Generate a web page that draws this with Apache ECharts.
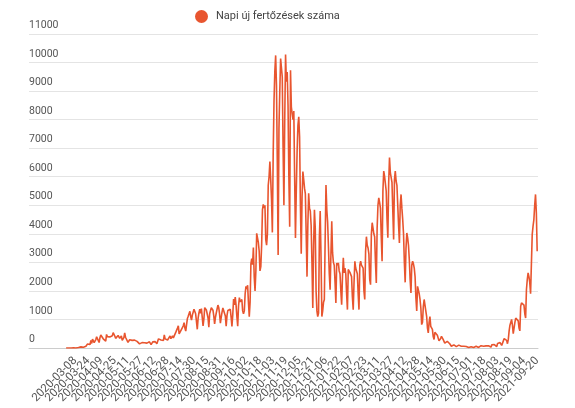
<!DOCTYPE html>
<html>
<head>
<meta charset="utf-8">
<script src="https://cdn.jsdelivr.net/npm/echarts@6/dist/echarts.min.js"></script>
<style>
html,body{margin:0;padding:0;background:#fff;}
#chart{width:575px;height:408px;}
</style>
</head>
<body>
<div id="chart"></div>
<script>
// ---- data ----
const seriesName = 'Napi új fertőzések száma';
const startDate = '2020-02-26';
const endDate = '2021-09-20';
const missingDates = ['2021-07-10'];

const tickLabels = [
 '2020-03-08','2020-03-24','2020-04-09','2020-04-25','2020-05-11','2020-05-27','2020-06-12','2020-06-28',
 '2020-07-14','2020-07-30','2020-08-15','2020-08-31','2020-09-16','2020-10-02','2020-10-18','2020-11-03',
 '2020-11-19','2020-12-05','2020-12-21','2021-01-06','2021-01-22','2021-02-07','2021-02-23','2021-03-11',
 '2021-03-27','2021-04-12','2021-04-28','2021-05-14','2021-05-30','2021-06-15','2021-07-01','2021-07-18',
 '2021-08-03','2021-08-19','2021-09-04','2021-09-20'
];

const cases2020 = [
 1,0,2,0,0,
 0,0,1,2,3,2,6,
 2,10,4,19,30,7,39,
 29,45,29,31,31,59,66,
 143,186,144,123,263,160,308,
 263,192,250,295,391,448,332,
 193,361,456,441,433,322,389,
 320,240,475,399,459,355,389,
 327,351,426,540,523,421,338,
 307,361,437,442,339,397,420,
 267,333,364,530,376,340,349,
 195,238,290,291,259,267,238,
 213,276,218,251,233,225,188,
 145,179,208,188,233,199,186,
 119,137,172,196,174,216,182,
 120,173,215,195,190,224,193,
 147,197,320,270,266,283,331,
 215,264,460,320,321,325,280,
 262,292,422,327,357,427,356,
 314,406,555,614,698,777,492,
 432,477,665,688,777,889,698,
 591,818,1030,1112,1119,1284,1104,
 980,1151,1182,1356,1295,1201,1150,
 655,1046,1232,1357,1215,1378,1345,
 771,1015,1415,1454,1331,1378,1060,
 733,1201,1252,1409,1346,1324,1128,
 842,1072,1226,1365,1504,1415,1197,
 868,1070,1254,1403,1380,1421,1121,
 766,1136,1311,1332,1300,1356,1082,
 752,1171,1713,1511,1788,1500,1100,
 763,1470,1767,1617,1600,1700,1300,
 1200,1300,1900,2158,2070,2200,1600,
 1100,1600,2958,3130,2919,3517,2500,
 2000,2700,4016,4026,3697,3400,2700,
 2850,3600,4848,5028,4900,5000,3800,
 3600,4000,5700,6000,6530,5900,5200,
 4050,6800,8650,9700,10250,9200,6500,
 3260,7700,9000,10140,10200,9500,7000,
 5000,8000,10280,9330,9670,8500,6000,
 4250,9730,8450,8200,8000,8300,6000,
 3850,5500,6900,7800,8100,7400,5000,
 3300,5300,6180,5900,5600,5400,4000,
 2500,4300,5420,4900,4800,4300,3000,
 1400,3600,4840,4200,2000,1300,1100,
 1220,3900,4800,3200
];

const cases2021 = [
 1100,1300,1600,
 1700,3800,5710,4840,4400,3550,2600,
 2040,3300,4440,3330,3000,2900,2300,
 1580,2980,2900,2980,2700,2600,2000,
 1520,2500,3160,2630,2800,2600,1900,
 1345,2750,2700,2650,2600,2500,1800,
 1345,2300,3040,2800,2700,2600,1900,
 1345,2900,3040,2900,2950,2800,2000,
 1700,3390,3900,3600,3500,3300,2400,
 2220,3980,4390,4200,4000,3900,3000,
 2280,4200,5000,5260,5100,4900,3900,
 3040,5500,6200,6020,6000,5500,4500,
 3860,5800,6670,6140,6100,5800,4800,
 3800,5900,6200,5850,5700,5000,4300,
 3680,5000,5380,4900,4500,4000,3000,
 2300,3500,4030,3860,3600,3100,2400,
 1930,2900,3040,2950,2800,2500,1750,
 1300,2160,2100,1900,1700,1400,820,
 900,1460,1700,1500,1300,1110,700,
 530,900,1100,760,700,650,400,
 300,550,620,500,450,400,250,
 200,330,410,350,300,260,170,
 110,200,230,180,170,150,90,
 60,120,130,110,100,90,50,
 40,90,100,80,70,60,30,
 25,60,70,55,50,45,20,
 15,50,60,45,40,35,20,
 15,55,60,50,45,20,
 20,60,80,70,65,60,30,
 25,75,95,90,80,70,40,
 30,110,140,130,120,110,60,
 50,160,230,200,190,170,90,
 90,250,330,310,300,270,150,
 300,600,800,750,1000,800,500,
 450,900,1050,1000,1100,950,700,
 600,1460,1580,1640,1600,1500,1200,
 1050,2050,2400,2630,2500,2300,1900,
 1870,3980,4270,4500,5000,5380,4740,
 3390
];

// ---- build ----
function buildDates(start, end, skip) {
  const out = [];
  const d = new Date(start + 'T00:00:00Z');
  const e = new Date(end + 'T00:00:00Z');
  while (d <= e) {
    const s = d.toISOString().slice(0, 10);
    if (skip.indexOf(s) < 0) out.push(s);
    d.setUTCDate(d.getUTCDate() + 1);
  }
  return out;
}
const categories = buildDates(startDate, endDate, missingDates);
const values = cases2020.concat(cases2021);

// empty slots on the axis before the first reported day (and one after the last)
const leadSlots = 45;
const axisCats = new Array(leadSlots).fill('').concat(categories, ['']);
const seriesData = new Array(leadSlots).fill(null).concat(values, [null]);
const labelSet = new Set(tickLabels);
const lastIdx = axisCats.length - 1;

const chart = echarts.init(document.getElementById('chart'), null, {renderer: 'canvas'});
chart.setOption({
  backgroundColor: '#ffffff',
  animation: false,
  textStyle: {fontFamily: 'Roboto, Arial, sans-serif'},
  legend: {
    top: 5,
    left: 190,
    icon: 'circle',
    itemWidth: 13,
    itemHeight: 13,
    itemGap: 10,
    textStyle: {fontSize: 11, color: '#444', padding: [0, 0, 0, 3]},
    data: [seriesName]
  },
  grid: {
    left: 29, right: 37, top: 34, bottom: 60,
    containLabel: false,
    outerBoundsMode: 'none'
  },
  xAxis: {
    type: 'category',
    data: axisCats,
    boundaryGap: false,
    axisLine: {show: true, lineStyle: {color: '#cccccc', width: 1}},
    axisTick: {show: false},
    splitLine: {show: false},
    axisLabel: {
      interval: (idx, val) => idx === 0 || idx === lastIdx || labelSet.has(val),
      rotate: 45,
      margin: 11,
      fontSize: 11.5,
      color: '#555',
      hideOverlap: false,
      showMinLabel: false,
      showMaxLabel: false
    }
  },
  yAxis: {
    type: 'value',
    min: 0,
    max: 11000,
    interval: 1000,
    axisLine: {show: false},
    axisTick: {show: false},
    splitLine: {lineStyle: {color: '#e4e4e4', width: 1}},
    axisLabel: {
      inside: true,
      margin: 0,
      fontSize: 10.5,
      color: '#555',
      verticalAlign: 'bottom',
      padding: [0, 0, 3, 0],
      formatter: v => String(v)
    }
  },
  series: [{
    name: seriesName,
    type: 'line',
    data: seriesData,
    showSymbol: false,
    symbol: 'circle',
    sampling: null,
    connectNulls: false,
    color: '#e8552f',
    lineStyle: {color: '#e8552f', width: 1.6}
  }]
});
</script>
</body>
</html>
